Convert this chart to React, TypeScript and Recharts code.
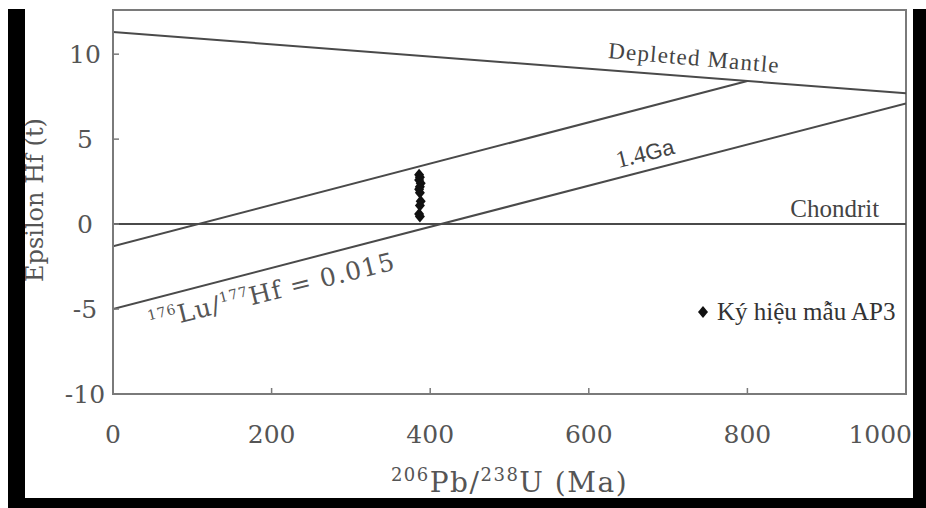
import React from 'react';
import { ComposedChart, Line, Scatter, XAxis, YAxis, ReferenceArea, ReferenceDot, Label } from 'recharts';

// evolution lines (x = age Ma, y = epsilon Hf)
const depletedMantle = [
  { x: 0, y: 11.3 },
  { x: 1000, y: 7.7 },
];
const crustLine = [
  { x: 0, y: -1.3 },
  { x: 800, y: 8.42 },
];
const luHfLine = [
  { x: 0, y: -5 },
  { x: 1000, y: 7.1 },
];
const chondrite = [
  { x: 0, y: 0 },
  { x: 1000, y: 0 },
];

// sample AP3 zircons
const ap3Ages = [386, 387, 386, 388, 387, 386, 387, 388, 387, 386, 387];
const ap3Eps = [2.9, 2.75, 2.6, 2.4, 2.2, 2.05, 1.85, 1.35, 1.1, 0.6, 0.45];
const ap3 = ap3Ages.map((x, i) => ({ x, y: ap3Eps[i] }));

const xTicks = [0, 200, 400, 600, 800, 1000];
const yTicks = [-10, -5, 0, 5, 10];

const LINE = '#4a4a4a';
const AXIS = '#7a7a7a';
const SERIF = '"DejaVu Serif", serif';
const TIMES = '"Liberation Serif", serif';

const Diamond = (p: any) => (
  <polygon
    points={`${p.cx},${p.cy - 6} ${p.cx + 5},${p.cy} ${p.cx},${p.cy + 6} ${p.cx - 5},${p.cy}`}
    fill="#111"
  />
);

// last label is pushed left so it stays inside the frame
const XTick = (p: any) => {
  const last = p.payload.value === 1000;
  return (
    <text x={last ? p.x + 6 : p.x} y={p.y} dy="0.71em" textAnchor={last ? 'end' : 'middle'} fontFamily={SERIF} fontSize={25} fill="#555">
      {p.payload.value}
    </text>
  );
};

// y labels are centred in a column left of the axis
const YTick = (p: any) => (
  <text x={85} y={p.y} dy="0.355em" textAnchor="middle" fontFamily={SERIF} fontSize={25} fill="#555">
    {p.payload.value}
  </text>
);

// label renderer anchored at a data point
const at = (render: (x: number, y: number) => React.ReactElement) => (props: any) => {
  const vb = props.viewBox || {};
  return render(vb.x + (vb.width || 0) / 2, vb.y + (vb.height || 0) / 2);
};

export default function App() {
  return (
    <div style={{ position: 'absolute', left: 0, top: 0, width: 926, height: 508, background: '#fff', overflow: 'hidden' }}>
      <ComposedChart width={926} height={508} margin={{ top: 10, right: 20, bottom: 54, left: 33 }}>
        <XAxis
          type="number"
          dataKey="x"
          domain={[0, 1000]}
          ticks={xTicks}
          allowDataOverflow
          height={60}
          tickSize={-6}
          tickMargin={37}
          axisLine={{ stroke: AXIS, strokeWidth: 2 }}
          tickLine={{ stroke: AXIS, strokeWidth: 1.5 }}
          tick={XTick}
        >
          <Label
            content={(props: any) => {
              const vb = props.viewBox;
              const cx = vb.x + vb.width / 2;
              return (
                <text x={cx} y={vb.y + 98} textAnchor="middle" fontFamily={SERIF} fontSize={28} fill="#555" letterSpacing={1.5}>
                  <tspan fontSize={18} dy={-11}>206</tspan>
                  <tspan dy={11}>Pb/</tspan>
                  <tspan fontSize={18} dy={-11}>238</tspan>
                  <tspan dy={11}>U (Ma)</tspan>
                </text>
              );
            }}
          />
        </XAxis>
        <YAxis
          type="number"
          dataKey="y"
          domain={[-10, 12.6]}
          ticks={yTicks}
          allowDataOverflow
          width={80}
          tickSize={-6}
          tickMargin={20}
          axisLine={{ stroke: AXIS, strokeWidth: 2 }}
          tickLine={{ stroke: AXIS, strokeWidth: 1.5 }}
          tick={YTick}
        >
          <Label
            content={(props: any) => {
              const vb = props.viewBox;
              const x = vb.x + 10;
              const y = vb.y + vb.height / 2 - 2;
              return (
                <text x={x} y={y} transform={`rotate(-90 ${x} ${y})`} textAnchor="middle" fontFamily={SERIF} fontSize={24} fill="#555">
                  Epsilon Hf (t)
                </text>
              );
            }}
          />
        </YAxis>

        <ReferenceArea x1={0} x2={1000} y1={-10} y2={12.6} fill="none" stroke={AXIS} strokeWidth={2} ifOverflow="visible" />

        <Line data={depletedMantle} dataKey="y" type="linear" stroke={LINE} strokeWidth={2} dot={false} isAnimationActive={false} />
        <Line data={crustLine} dataKey="y" type="linear" stroke={LINE} strokeWidth={2} dot={false} isAnimationActive={false} />
        <Line data={luHfLine} dataKey="y" type="linear" stroke={LINE} strokeWidth={2} dot={false} isAnimationActive={false} />
        <Line data={chondrite} dataKey="y" type="linear" stroke={LINE} strokeWidth={2} dot={false} isAnimationActive={false} />

        <Scatter data={ap3} dataKey="y" shape={Diamond} isAnimationActive={false} />

        <ReferenceDot
          x={624}
          y={9.78}
          r={0}
          ifOverflow="visible"
          label={at((x, y) => (
            <text x={x} y={y} transform={`rotate(5 ${x} ${y})`} fontFamily={TIMES} fontSize={23} letterSpacing={1.2} fill="#444">
              Depleted Mantle
            </text>
          ))}
        />
        <ReferenceDot
          x={637}
          y={3.3}
          r={0}
          ifOverflow="visible"
          label={at((x, y) => (
            <text x={x} y={y} transform={`rotate(-14 ${x} ${y})`} fontFamily={TIMES} fontSize={24} fill="#444">
              1.4
              <tspan fontFamily='"Liberation Sans", sans-serif' fontSize={22}>Ga</tspan>
            </text>
          ))}
        />
        <ReferenceDot
          x={48}
          y={-6.25}
          r={0}
          ifOverflow="visible"
          label={at((x, y) => (
            <text x={x} y={y} transform={`rotate(-14 ${x} ${y})`} fontFamily={SERIF} fontSize={25} letterSpacing={1} fill="#555">
              <tspan fontSize={14} dy={-10}>176</tspan>
              <tspan dy={10}>Lu/</tspan>
              <tspan fontSize={14} dy={-10}>177</tspan>
              <tspan dy={10}>Hf = 0.015</tspan>
            </text>
          ))}
        />
        <ReferenceDot
          x={854}
          y={0.41}
          r={0}
          ifOverflow="visible"
          label={at((x, y) => (
            <text x={x} y={y} fontFamily={TIMES} fontSize={25} fill="#444">
              Chondrit
            </text>
          ))}
        />
      </ComposedChart>

      {/* legend */}
      <div
        style={{
          position: 'absolute',
          left: 696,
          top: 298,
          display: 'flex',
          alignItems: 'center',
          fontFamily: TIMES,
          fontSize: 25,
          color: '#333',
          whiteSpace: 'nowrap',
          lineHeight: '28px',
        }}
      >
        <svg width={14} height={14} style={{ marginRight: 7 }}>
          <polygon points="7,1 12,7 7,13 2,7" fill="#111" />
        </svg>
        Ký hiệu mẫu AP3
      </div>

      {/* photo frame */}
      <div style={{ position: 'absolute', left: 8, top: 9, width: 17, height: 499, background: '#000' }} />
      <div style={{ position: 'absolute', left: 913, top: 9, width: 13, height: 499, background: '#000' }} />
      <div style={{ position: 'absolute', left: 8, top: 498, width: 918, height: 10, background: '#000' }} />
    </div>
  );
}
